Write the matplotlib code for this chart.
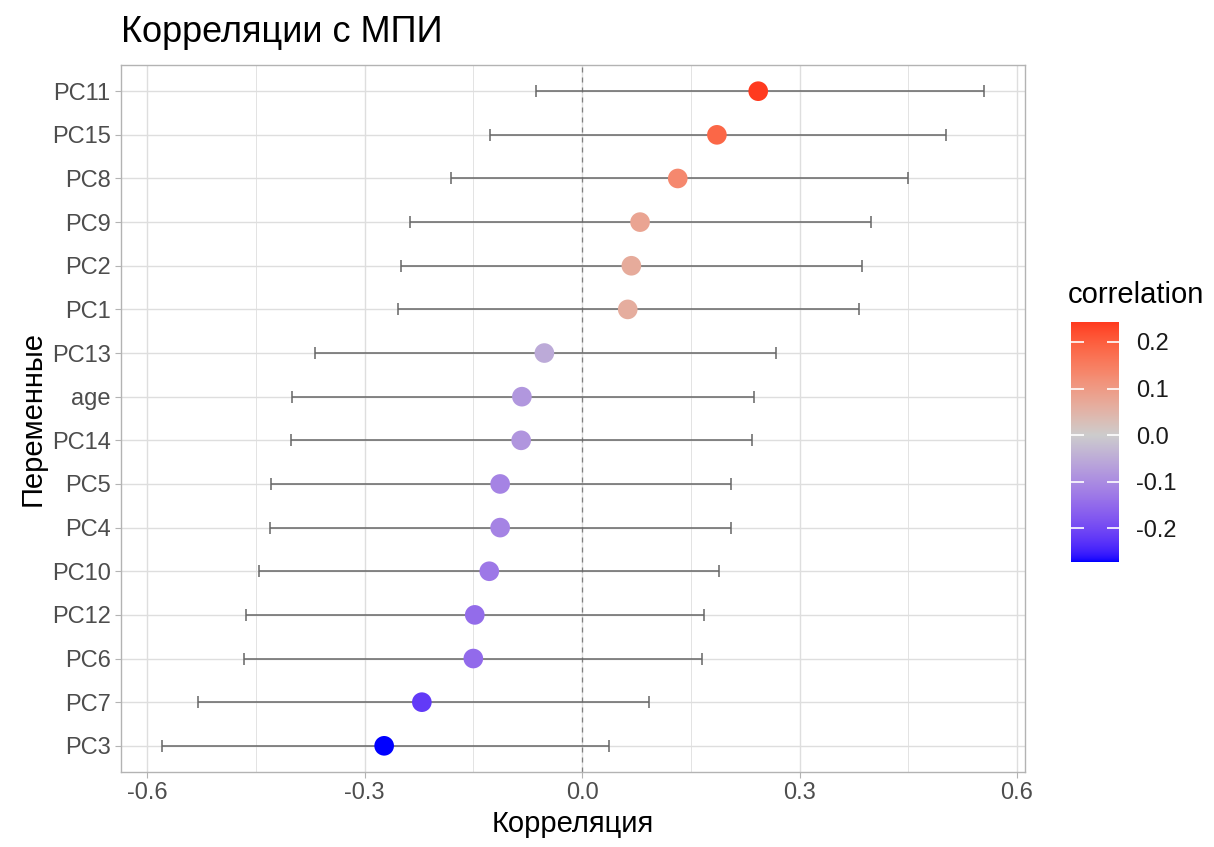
import numpy as np
import matplotlib
matplotlib.use("Agg")
import matplotlib.pyplot as plt
from matplotlib.colors import ListedColormap, TwoSlopeNorm

plt.rcParams['font.family'] = ['Liberation Sans', 'DejaVu Sans']

# data
variables = ['PC3', 'PC7', 'PC6', 'PC12', 'PC10', 'PC4', 'PC5', 'PC14', 'age',
             'PC13', 'PC1', 'PC2', 'PC9', 'PC8', 'PC15', 'PC11']
correlation = [-0.273, -0.221, -0.150, -0.148, -0.128, -0.113, -0.113, -0.084, -0.083,
               -0.052, 0.063, 0.068, 0.080, 0.132, 0.186, 0.243]
ci_low = [-0.579, -0.530, -0.466, -0.463, -0.446, -0.430, -0.429, -0.401, -0.400,
          -0.368, -0.254, -0.250, -0.237, -0.181, -0.127, -0.063]
ci_high = [0.037, 0.092, 0.166, 0.168, 0.189, 0.206, 0.206, 0.234, 0.237,
           0.268, 0.382, 0.386, 0.399, 0.450, 0.502, 0.554]


# ggplot-like gradient2 (Lab interpolation) blue -> grey80 -> red
def srgb_to_lab(rgb):
    rgb = np.asarray(rgb, float)
    lin = np.where(rgb <= 0.04045, rgb / 12.92, ((rgb + 0.055) / 1.055) ** 2.4)
    m = np.array([[0.4124, 0.3576, 0.1805], [0.2126, 0.7152, 0.0722], [0.0193, 0.1192, 0.9505]])
    xyz = m @ lin / np.array([0.95047, 1.0, 1.08883])
    f = np.where(xyz > 0.008856, np.cbrt(xyz), 7.787 * xyz + 16 / 116)
    return np.array([116 * f[1] - 16, 500 * (f[0] - f[1]), 200 * (f[1] - f[2])])


def lab_to_srgb(lab):
    fy = (lab[0] + 16) / 116
    fx = fy + lab[1] / 500
    fz = fy - lab[2] / 200
    f = np.array([fx, fy, fz])
    xyz = np.where(f ** 3 > 0.008856, f ** 3, (f - 16 / 116) / 7.787) * np.array([0.95047, 1.0, 1.08883])
    minv = np.array([[3.2406, -1.5372, -0.4986], [-0.9689, 1.8758, 0.0415], [0.0557, -0.2040, 1.0570]])
    lin = minv @ xyz
    rgb = np.where(lin <= 0.0031308, 12.92 * lin, 1.055 * np.clip(lin, 0, None) ** (1 / 2.4) - 0.055)
    return np.clip(rgb, 0, 1)


low, mid, high = srgb_to_lab([0, 0, 1]), srgb_to_lab([0.8, 0.8, 0.8]), srgb_to_lab([1, 0, 0])
cols = []
for t in np.linspace(0, 1, 256):
    if t < 0.5:
        c = low + (mid - low) * (t / 0.5)
    else:
        c = mid + (high - mid) * ((t - 0.5) / 0.5)
    cols.append(lab_to_srgb(c))
cmap = ListedColormap(cols)
# gradient2 is centred on 0
lim = max(abs(min(correlation)), abs(max(correlation)))
norm = TwoSlopeNorm(vmin=-lim, vcenter=0, vmax=lim)

fig = plt.figure(figsize=(12.14, 8.47), dpi=100)
ax = fig.add_axes([121 / 1214, 75 / 847, 904 / 1214, 707 / 847])

y = np.arange(len(variables))
ax.set_xlim(-0.636, 0.611)
ax.set_ylim(-0.6, len(variables) - 1 + 0.6)

ax.set_xticks([-0.6, -0.3, 0.0, 0.3, 0.6])
ax.set_xticklabels(['-0.6', '-0.3', '0.0', '0.3', '0.6'])
ax.set_xticks([-0.45, -0.15, 0.15, 0.45], minor=True)
ax.set_yticks(y)
ax.set_yticklabels(variables)

ax.grid(True, which='major', color='#dedede', lw=1.0)
ax.grid(True, which='minor', axis='x', color='#dedede', lw=0.6)
ax.set_axisbelow(True)
for s in ax.spines.values():
    s.set_color('#b3b3b3')
    s.set_linewidth(1.0)
ax.tick_params(which='major', color='#b3b3b3', length=4, labelsize=17, labelcolor='#4d4d4d')
ax.tick_params(which='minor', length=0)

ax.axvline(0, color='#808080', ls=(0, (4, 4)), lw=0.9, zorder=1)

ax.errorbar(correlation, y, xerr=[np.array(correlation) - np.array(ci_low),
                                  np.array(ci_high) - np.array(correlation)],
            fmt='none', ecolor='#666666', elinewidth=1.1, capsize=4, capthick=1.1, zorder=2)
sc = ax.scatter(correlation, y, c=correlation, cmap=cmap, norm=norm, s=200, zorder=3,
                edgecolors='none')

ax.set_xlabel('Корреляция', fontsize=21, labelpad=4)
ax.set_ylabel('Переменные', fontsize=21, labelpad=4)
fig.text(121 / 1214, 1 - 33 / 847, 'Корреляции с МПИ', fontsize=26, va='center', ha='left')

# colorbar
cax = fig.add_axes([1071 / 1214, 1 - 562 / 847, 48 / 1214, 240 / 847])
cb = fig.colorbar(sc, cax=cax)
cb.ax.set_ylim(min(correlation), max(correlation))
cb.set_ticks([-0.2, -0.1, 0.0, 0.1, 0.2])
cb.set_ticklabels(['-0.2', '-0.1', '0.0', '0.1', '0.2'])
cb.outline.set_visible(False)
cb.ax.tick_params(length=9, color='white', width=1.2, labelsize=17, direction='in', pad=12,
                  left=True, right=True, labelleft=False, labelright=True, labelcolor='#1a1a1a')
cb.ax.tick_params(which='minor', length=0)
fig.text(1068 / 1214, 1 - 295 / 847, 'correlation', fontsize=21, va='center', ha='left')

fig.savefig('out.png', dpi=100)
